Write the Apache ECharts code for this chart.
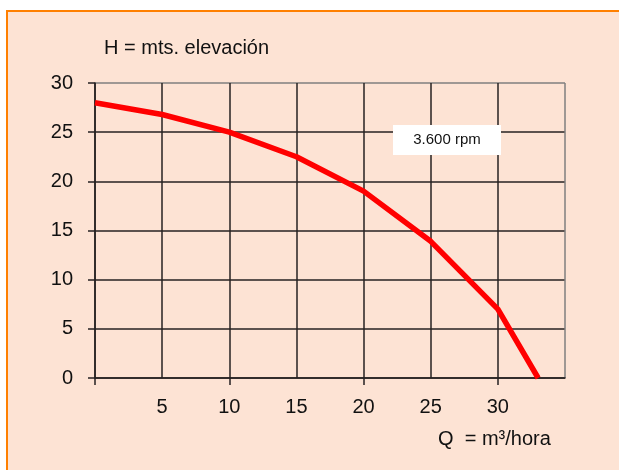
<!DOCTYPE html>
<html>
<head>
<meta charset="utf-8">
<script src="https://cdn.jsdelivr.net/npm/echarts@6/dist/echarts.min.js"></script>
<style>
  html, body { margin: 0; padding: 0; background: #fff; }
  #chart { width: 619px; height: 470px; }
</style>
</head>
<body>
<div id="chart"></div>
<script>
// caudal Q (m3/hora) y altura H (m)
const flow = [0, 5, 10, 15, 20, 25, 30, 33];
const head = [28, 26.8, 25, 22.5, 19, 13.9, 7, 0];
const xTicks = [0, 10, 20, 30];
const titleText = "H = mts. elevación";
const xName = "Q  = m³/hora";
const curveLabel = "3.600 rpm";

const font = "Liberation Sans, Arial, sans-serif";
const dark = "#262222";
const gray = "#7f7f7f";

const chart = echarts.init(document.getElementById("chart"));

chart.setOption({
  backgroundColor: "#FDE3D4",
  animation: false,
  grid: { left: 95, top: 83, right: 54, bottom: 92 },
  xAxis: [
    {
      type: "value",
      min: 0,
      max: 35,
      interval: 5,
      axisLine: { show: true, lineStyle: { color: dark, width: 1.5 } },
      axisTick: { show: false },
      axisLabel: {
        color: "#111",
        fontFamily: font,
        fontSize: 20,
        margin: 19,
        formatter: (v) => (v === 0 || v === 35 ? "" : v)
      },
      splitLine: {
        show: true,
        lineStyle: { color: [dark, dark, dark, dark, dark, dark, dark, gray], width: 1.5 }
      }
    },
    {
      // solo las marcas cada 10
      type: "value",
      position: "bottom",
      min: 0,
      max: 35,
      axisLine: { show: false },
      axisTick: { show: true, length: 7, customValues: xTicks, lineStyle: { color: dark, width: 1.5 } },
      axisLabel: { show: false },
      splitLine: { show: false }
    }
  ],
  yAxis: {
    type: "value",
    min: 0,
    max: 30,
    interval: 5,
    axisLine: { show: true, lineStyle: { color: dark, width: 1.5 } },
    axisTick: { show: true, length: 7, lineStyle: { color: dark, width: 1.5 } },
    axisLabel: { color: "#111", fontFamily: font, fontSize: 20, margin: 22 },
    splitLine: {
      show: true,
      lineStyle: { color: [dark, dark, dark, dark, dark, dark, gray], width: 1.5 }
    }
  },
  series: [
    {
      type: "line",
      xAxisIndex: 0,
      data: flow.map((q, i) => [q, head[i]]),
      symbol: "none",
      lineStyle: { color: "#FF0000", width: 5.5 },
      z: 5
    }
  ],
  graphic: [
    // marco recortado (blanco + borde naranja)
    { type: "rect", shape: { x: 0, y: 0, width: 619, height: 10 }, style: { fill: "#fff" } },
    { type: "rect", shape: { x: 0, y: 0, width: 6, height: 470 }, style: { fill: "#fff" } },
    { type: "rect", shape: { x: 6, y: 10, width: 613, height: 2 }, style: { fill: "#FF8000" } },
    { type: "rect", shape: { x: 6, y: 10, width: 2, height: 460 }, style: { fill: "#FF8000" } },
    {
      type: "text", left: 104, top: 38,
      style: { text: titleText, fontFamily: font, fontSize: 20, fill: "#111" }
    },
    {
      type: "text", left: 438, top: 429,
      style: { text: xName, fontFamily: font, fontSize: 20, fill: "#111" }
    },
    { type: "rect", z: 10, shape: { x: 393, y: 125, width: 108, height: 30 }, style: { fill: "#fff" } },
    {
      type: "text", z: 11, x: 447, y: 140,
      style: {
        text: curveLabel, fontFamily: font, fontSize: 15, fill: "#111",
        align: "center", verticalAlign: "middle"
      }
    }
  ]
});
</script>
</body>
</html>
